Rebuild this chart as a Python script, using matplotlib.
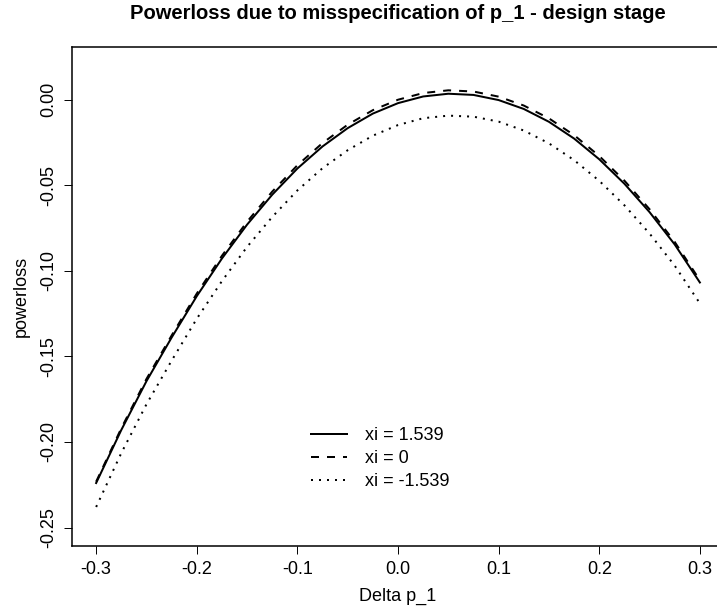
import matplotlib
matplotlib.use("Agg")
import matplotlib.pyplot as plt

plt.rcParams["font.family"] = ["Liberation Sans", "DejaVu Sans"]
plt.rcParams["axes.unicode_minus"] = False

# Delta p_1 grid and powerloss.
delta = [-0.300, -0.275, -0.250, -0.225, -0.200, -0.175, -0.150, -0.125, -0.100,
         -0.075, -0.050, -0.025, 0.000, 0.025, 0.050, 0.075, 0.100, 0.125,
         0.150, 0.175, 0.200, 0.225, 0.250, 0.275, 0.300]

loss_pos = [-0.2240, -0.1930, -0.1645, -0.1390, -0.1148, -0.0928, -0.0730,
            -0.0555, -0.0402, -0.0273, -0.0166, -0.0081, -0.0020, 0.0019,
            0.0035, 0.0028, -0.0002, -0.0054, -0.0129, -0.0227, -0.0348,
            -0.0491, -0.0657, -0.0846, -0.1068]

loss_zero = [-0.2232, -0.1920, -0.1632, -0.1378, -0.1133, -0.0912, -0.0713,
             -0.0537, -0.0383, -0.0253, -0.0146, -0.0061, 0.0000, 0.0039,
             0.0055, 0.0048, 0.0018, -0.0034, -0.0109, -0.0207, -0.0329,
             -0.0473, -0.0640, -0.0831, -0.1055]

loss_neg = [-0.2380, -0.2065, -0.1780, -0.1525, -0.1280, -0.1060, -0.0860,
            -0.0685, -0.0530, -0.0400, -0.0295, -0.0210, -0.0148, -0.0108,
            -0.0093, -0.0099, -0.0128, -0.0180, -0.0255, -0.0353, -0.0474,
            -0.0617, -0.0782, -0.0970, -0.1190]

labels = ["xi = 1.539", "xi = 0", "xi = -1.539"]

xticks = [-0.3, -0.2, -0.1, 0.0, 0.1, 0.2, 0.3]
xticklabels = ["-0.3", "-0.2", "-0.1", "0.0", "0.1", "0.2", "0.3"]
yticks = [0.0, -0.05, -0.10, -0.15, -0.20, -0.25]
yticklabels = ["0.00", "-0.05", "-0.10", "-0.15", "-0.20", "-0.25"]

fig = plt.figure(figsize=(7.17, 6.13), dpi=100)
# plot region runs past the right edge, as in the reference
ax = fig.add_axes([0.1004, 0.1093, 0.9094, 0.814])

lw = 1.44
ax.plot(delta, loss_pos, color="black", lw=lw, label=labels[0])
ax.plot(delta, loss_zero, color="black", lw=lw, dashes=(4, 4), label=labels[1])
ax.plot(delta, loss_neg, color="black", lw=lw, dashes=(1, 3), label=labels[2])

ax.set_xlim(-0.324, 0.324)
ax.set_ylim(-0.2608, 0.0308)

ax.set_xticks(xticks)
ax.set_xticklabels(xticklabels)
ax.set_yticks(yticks)
ax.set_yticklabels(yticklabels, rotation=90, va="center")
ax.tick_params(direction="out", length=5.8, width=0.7, labelsize=13, pad=5)

for sp in ax.spines.values():
    sp.set_linewidth(1.1)

ax.set_xlabel("Delta p_1", fontsize=13, labelpad=7)
ax.set_ylabel("powerloss", fontsize=13, labelpad=7)
ax.set_title("Powerloss due to misspecification of p_1 - design stage",
             fontsize=14.5, fontweight="bold", pad=20)

ax.legend(loc="upper left", bbox_to_anchor=(0.355, 0.252), frameon=False,
          fontsize=13, handlelength=2.0, handletextpad=1.0,
          labelspacing=0.33, borderaxespad=0)

fig.savefig("out.png", dpi=100)
